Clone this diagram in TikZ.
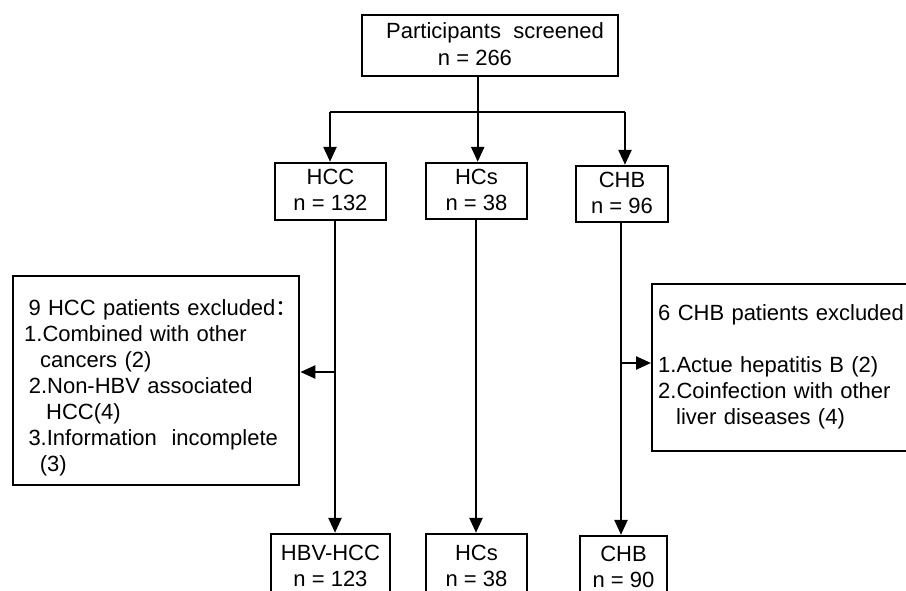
\documentclass[tikz,border=0pt]{standalone}
\usepackage{fontspec}
\setmainfont{Liberation Sans}
\newfontfamily\cjk{Noto Sans CJK SC}
\usetikzlibrary{arrows.meta}
\newcommand\stt{\rule[-4.5pt]{0pt}{21.5pt}}
\begin{document}
\begin{tikzpicture}[x=1pt,y=-1pt,
  box/.style={draw, line width=2.4pt, inner sep=0pt, align=center,
    font=\fontsize{22pt}{26pt}\selectfont},
  exbox/.style={draw, line width=2.4pt, inner ysep=0pt, align=left,
    anchor=north west, font=\fontsize{22pt}{26pt}\selectfont},
  conn/.style={line width=2.4pt},
  arr/.style={conn, -{Triangle[width=13pt,length=15pt]}}]
\useasboundingbox (0,0) rectangle (906,591);
\clip (0,0) rectangle (906,591);
\fill[white] (0,0) rectangle (906,591);

% boxes
\node[box, minimum width=256pt, minimum height=61pt] (top) at (489.7,45.3)
  {\hspace*{10.6pt}Participants\ \ screened\stt\\[1pt] n = 266\hspace*{29.4pt}\stt};
\node[box, minimum width=111pt, minimum height=57pt] (hcc) at (330.5,191.5)
  {HCC\stt\\ n = 132\stt};
\node[box, minimum width=101pt, minimum height=56pt] (hcs) at (476.5,191)
  {HCs\stt\\ n = 38\stt};
\node[box, minimum width=92pt, minimum height=56pt] (chb) at (622,194)
  {CHB\stt\\ n = 96\stt};

\node[box, minimum width=119pt, minimum height=66.6pt] (hbv) at (330.5,567.3)
  {HBV-HCC\stt\\ n = 123\stt};
\node[box, minimum width=101pt, minimum height=66.6pt] (hcs2) at (476.5,567.3)
  {HCs\stt\\ n = 38\stt};
\node[box, minimum width=87pt, minimum height=64pt] (chb2) at (623.5,568)
  {CHB\stt\\ n = 90\stt};

\node[exbox, inner xsep=11pt, text width=264pt] (exL) at (12,275)
  {\hspace*{4.3pt}\rule{0pt}{39pt}9 HCC patients excluded\rlap{\cjk{：}}\stt\\
   1.Combined with other\stt\\
   \hspace*{16pt}cancers (2)\stt\\
   \hspace*{4.6pt}2.Non-HBV associated\stt\\
   \hspace*{22pt}HCC(4)\stt\\
   \hspace*{4.3pt}3.Information\ \ incomplete\stt\\
   \hspace*{15.7pt}(3)\stt\rule[-14pt]{0pt}{0pt}};

\node[exbox, inner xsep=6pt, text width=288pt] (exR) at (651,283)
  {\rule{0pt}{36pt}6 CHB patients excluded\stt\\
   \stt\\
   1.Actue hepatitis B (2)\stt\\
   2.Coinfection with other\stt\\
   \hspace*{18pt}liver diseases (4)\stt\rule[-27pt]{0pt}{0pt}};

% connectors
\coordinate (split) at (477.7,112);
\coordinate (splitL) at (330,112);
\coordinate (splitR) at (625,112);
\draw[conn] (split |- top.south) -- (split);
\draw[conn] (splitL) -- (splitR);
\draw[arr] (splitL) -- (splitL |- hcc.north);
\draw[arr] (split) -- (split |- hcs.north);
\draw[arr] (splitR) -- (splitR |- chb.north);

\draw[arr] ([xshift=4.5pt]hcc.south) -- ([xshift=4.5pt]hbv.north);
\draw[arr] ([xshift=-0.5pt]hcs.south) -- ([xshift=-0.5pt]hcs2.north);
\draw[arr] ([xshift=-1pt]chb.south) -- ([xshift=-1pt]chb.south |- chb2.north);

\coordinate (lb) at (335,372);
\coordinate (rb) at (621,363);
\draw[arr] (lb) -- (lb -| exL.east);
\draw[arr] (rb) -- (rb -| exR.west);
\end{tikzpicture}
\end{document}
